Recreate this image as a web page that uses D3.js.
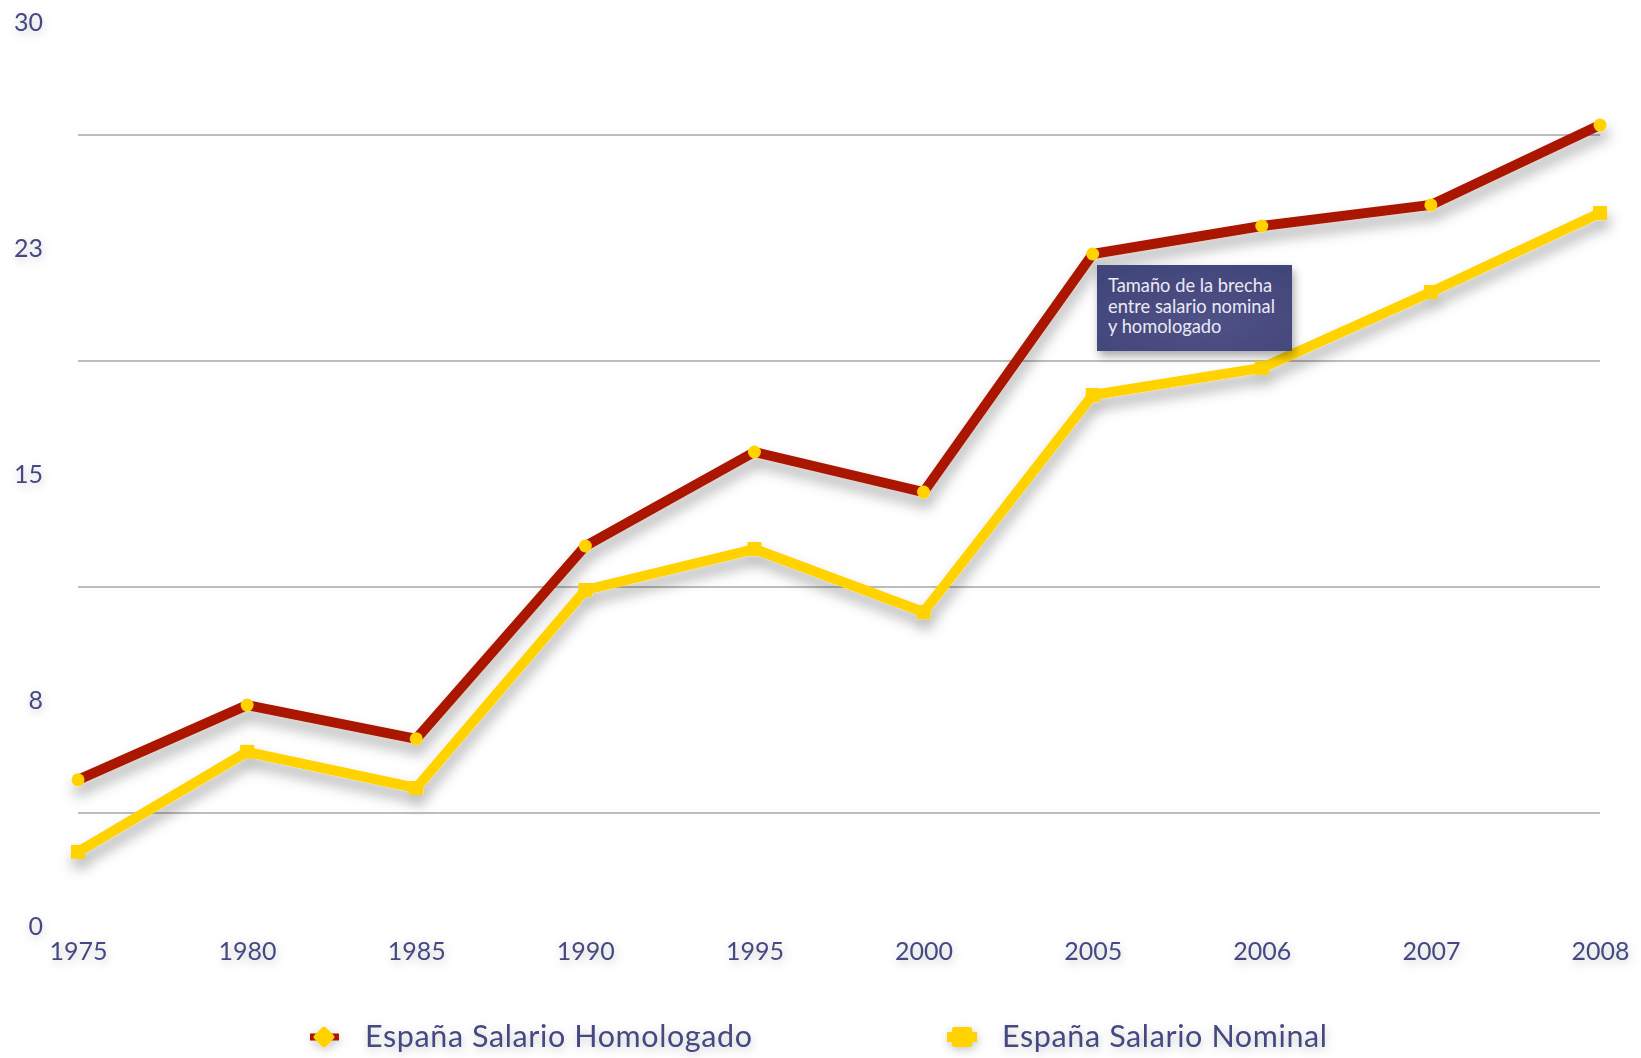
<!DOCTYPE html>
<html>
<head>
<meta charset="utf-8">
<script src="https://cdn.jsdelivr.net/npm/d3@7"></script>
<style>
  html, body { margin: 0; padding: 0; background: #ffffff; }
  svg { display: block; }
</style>
</head>
<body>
<div id="chart"></div>
<script>
// ---- data ----
const years = ["1975", "1980", "1985", "1990", "1995", "2000", "2005", "2006", "2007", "2008"];
const homologado = [4.85, 7.33, 6.21, 12.61, 15.73, 14.40, 22.30, 23.23, 23.93, 26.58];
const nominal = [2.46, 5.78, 4.58, 11.15, 12.51, 10.42, 17.62, 18.52, 21.04, 23.66];
const yTickValues = [0, 7.5, 15, 22.5, 30];
const gridValues = [3.75, 11.25, 18.75, 26.25];
const seriesNames = ["España Salario Homologado", "España Salario Nominal"];
const annotationLines = ["Tamaño de la brecha", "entre salario nominal", "y homologado"];

// ---- layout ----
const W = 1641, H = 1058;
const textColor = "#454a82";
const red = "#ab1800";
const yellow = "#ffd200";
const font = "Lato, 'Open Sans', sans-serif";

const svg = d3.select("#chart").append("svg").attr("width", W).attr("height", H);
const defs = svg.append("defs");
const fl = defs.append("filter").attr("id", "lineShadow")
  .attr("x", "-10%").attr("y", "-20%").attr("width", "120%").attr("height", "150%");
fl.append("feDropShadow").attr("dx", 2).attr("dy", 9).attr("stdDeviation", 7)
  .attr("flood-color", "#000").attr("flood-opacity", 0.32);
const ft = defs.append("filter").attr("id", "textShadow")
  .attr("x", "-50%").attr("y", "-80%").attr("width", "200%").attr("height", "260%");
ft.append("feDropShadow").attr("dx", 1).attr("dy", 3).attr("stdDeviation", 5)
  .attr("flood-color", "#000").attr("flood-opacity", 0.22);
const fb = defs.append("filter").attr("id", "boxShadow")
  .attr("x", "-20%").attr("y", "-30%").attr("width", "140%").attr("height", "170%");
fb.append("feDropShadow").attr("dx", 2).attr("dy", 5).attr("stdDeviation", 5)
  .attr("flood-color", "#000").attr("flood-opacity", 0.35);
const rg = defs.append("radialGradient").attr("id", "boxGrad").attr("cx", "55%").attr("cy", "65%").attr("r", "70%");
rg.append("stop").attr("offset", "0%").attr("stop-color", "#4f5286");
rg.append("stop").attr("offset", "100%").attr("stop-color", "#41457a");

const x = d3.scalePoint().domain(years).range([78, 1600]);
const y = d3.scaleLinear().domain([0, 30]).range([926, 22]);

// gridlines
svg.append("g").selectAll("line").data(gridValues).join("line")
  .attr("x1", x.range()[0]).attr("x2", x.range()[1])
  .attr("y1", d => y(d)).attr("y2", d => y(d))
  .attr("stroke", "#bdbdbd").attr("stroke-width", 2);

// y axis labels
const yAxis = d3.axisLeft(y).tickValues(yTickValues).tickFormat(d => String(Math.round(d))).tickSize(0).tickPadding(0);
const gy = svg.append("g").attr("transform", "translate(43,0)").call(yAxis);
gy.select(".domain").remove();
gy.selectAll("text").attr("font-family", font).attr("font-size", 25).attr("fill", textColor)
  .attr("filter", "url(#textShadow)");

// x axis labels
const xAxis = d3.axisBottom(x).tickSize(0).tickPadding(0);
const gx = svg.append("g").attr("transform", "translate(0,942)").call(xAxis);
gx.select(".domain").remove();
gx.selectAll("text").attr("font-family", font).attr("font-size", 25).attr("fill", textColor)
  .attr("filter", "url(#textShadow)");

// lines
const line = d3.line().x((d, i) => x(years[i])).y(d => y(d));
const gl = svg.append("g").attr("filter", "url(#lineShadow)");
gl.append("path").datum(nominal).attr("d", line).attr("fill", "none")
  .attr("stroke", yellow).attr("stroke-width", 10).attr("stroke-linejoin", "round");
gl.selectAll("rect.nm").data(nominal).join("rect").attr("class", "nm")
  .attr("x", (d, i) => x(years[i]) - 7).attr("y", d => y(d) - 7)
  .attr("width", 14).attr("height", 14).attr("fill", yellow);
gl.append("path").datum(homologado).attr("d", line).attr("fill", "none")
  .attr("stroke", red).attr("stroke-width", 10).attr("stroke-linejoin", "round");
gl.selectAll("circle.hm").data(homologado).join("circle").attr("class", "hm")
  .attr("cx", (d, i) => x(years[i])).attr("cy", d => y(d)).attr("r", 6.5).attr("fill", yellow);

// annotation
const ga = svg.append("g");
ga.append("rect").attr("x", 1097).attr("y", 265).attr("width", 195).attr("height", 86)
  .attr("fill", "url(#boxGrad)").attr("filter", "url(#boxShadow)");
ga.selectAll("text").data(annotationLines).join("text")
  .attr("x", 1108).attr("y", (d, i) => 292 + i * 20.5)
  .attr("font-family", font).attr("font-size", 18.3).attr("fill", "#eceaf4")
  .text(d => d);

// legend
const lg = svg.append("g").attr("filter", "url(#textShadow)");
const legY = 1037;
// homologado marker
lg.append("line").attr("x1", 310).attr("x2", 339).attr("y1", legY).attr("y2", legY)
  .attr("stroke", red).attr("stroke-width", 7);
lg.append("rect").attr("x", 324 - 8).attr("y", legY - 8).attr("width", 16).attr("height", 16)
  .attr("rx", 2).attr("fill", yellow).attr("transform", `rotate(45,324,${legY})`);
lg.append("text").attr("x", 365).attr("y", legY + 10).text(seriesNames[0])
  .attr("font-family", font).attr("font-size", 30.5).attr("fill", textColor)
  .attr("textLength", 387).attr("lengthAdjust", "spacing");
// nominal marker
lg.append("line").attr("x1", 947).attr("x2", 977).attr("y1", legY).attr("y2", legY)
  .attr("stroke", yellow).attr("stroke-width", 10);
lg.append("rect").attr("x", 952).attr("y", legY - 10).attr("width", 20).attr("height", 20)
  .attr("rx", 2).attr("fill", yellow);
lg.append("text").attr("x", 1002).attr("y", legY + 10).text(seriesNames[1])
  .attr("font-family", font).attr("font-size", 30.5).attr("fill", textColor)
  .attr("textLength", 325).attr("lengthAdjust", "spacing");
</script>
</body>
</html>
